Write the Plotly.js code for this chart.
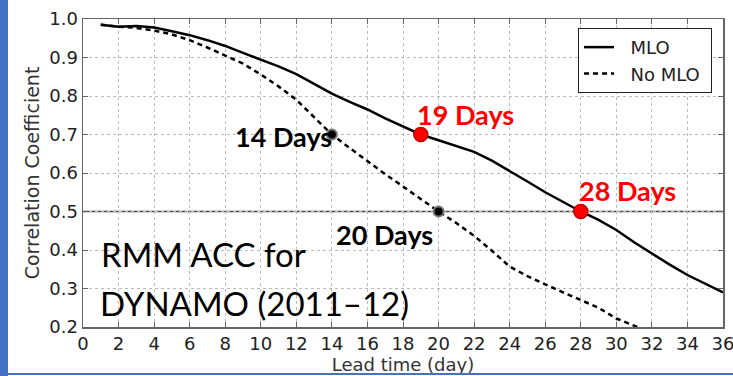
<!DOCTYPE html>
<html><head><meta charset="utf-8">
<script src="https://cdn.plot.ly/plotly-3.0.1.min.js"></script>
<style>
html,body{margin:0;padding:0;background:#fff;}
#wrap{position:relative;width:733px;height:376px;overflow:hidden;}
#bar{position:absolute;left:0;top:0;width:8px;height:376px;background:#4472C4;}
#bot{position:absolute;left:0;top:373px;width:733px;height:2px;background:#4472C4;}
#chart{position:absolute;left:0;top:0;width:733px;height:376px;}
</style></head>
<body><div id="wrap"><div id="chart"></div><div id="bar"></div><div id="bot"></div></div>
<script>
const leadDays = [1,2,3,4,5,6,7,8,9,10,11,12,13,14,15,16,17,18,19,20,21,22,23,24,25,26,27,28,29,30,31,32,33,34,35,36];
const accMLO = [0.985,0.98,0.982,0.978,0.968,0.958,0.945,0.93,0.912,0.895,0.877,0.857,0.832,0.806,0.785,0.765,0.742,0.72,0.70,0.685,0.67,0.655,0.632,0.606,0.578,0.55,0.525,0.50,0.478,0.452,0.42,0.39,0.362,0.335,0.312,0.29];
const accNoMLO = [0.985,0.98,0.977,0.97,0.96,0.945,0.926,0.905,0.884,0.856,0.825,0.79,0.745,0.70,0.665,0.63,0.597,0.565,0.532,0.50,0.47,0.437,0.398,0.357,0.332,0.31,0.29,0.27,0.25,0.222,0.203,0.185];
const noMLODays = leadDays.slice(0, accNoMLO.length);
const redDays = [19,28], redVals = [0.70,0.50], redLabels = ["19 Days","28 Days"];
const blkDays = [14,20], blkVals = [0.70,0.50], blkLabels = ["14 Days","20 Days"];
const xTicks = [0,2,4,6,8,10,12,14,16,18,20,22,24,26,28,30,32,34,36];
const yTicks = [0.2,0.3,0.4,0.5,0.6,0.7,0.8,0.9,1.0];
const threshold = 0.5;
const boxLines = ["RMM ACC for","DYNAMO (2011–12)"];
const seriesNames = ["MLO","No MLO"];

const pad = s => '\u00a0\u00a0' + s + '\u00a0';
const traces = [
  {x: leadDays, y: accMLO, mode:'lines', name:pad(seriesNames[0]), line:{color:'#000',width:2.5}},
  {x: noMLODays, y: accNoMLO, mode:'lines', name:pad(seriesNames[1]), line:{color:'#000',width:2.5,dash:'5px,4px'}},
  {x: blkDays, y: blkVals, mode:'markers', showlegend:false, marker:{color:'#000',size:10,line:{color:'#777',width:2}}},
  {x: redDays, y: redVals, mode:'markers', showlegend:false, marker:{color:'#ff0000',size:14,line:{color:'#c00000',width:1.5}}}
];
const lab = 'Lato, "Open Sans", sans-serif';
const annotations = [
  {x:redDays[0], y:redVals[0], text:'<b>'+redLabels[0]+'</b>', showarrow:false, xanchor:'left', yanchor:'bottom', xshift:-6, yshift:2, font:{family:lab,size:27,color:'#ff0000'}},
  {x:redDays[1], y:redVals[1], text:'<b>'+redLabels[1]+'</b>', showarrow:false, xanchor:'left', yanchor:'bottom', xshift:-4, yshift:3, font:{family:lab,size:27,color:'#ff0000'}},
  {x:blkDays[0], y:blkVals[0], text:'<b>'+blkLabels[0]+'</b>', showarrow:false, xanchor:'right', yanchor:'middle', xshift:2, yshift:-2, font:{family:lab,size:27,color:'#000'}},
  {x:blkDays[1], y:blkVals[1], text:'<b>'+blkLabels[1]+'</b>', showarrow:false, xanchor:'right', yanchor:'top', xshift:-4, yshift:-4, font:{family:lab,size:27,color:'#000'}},
  {x:1, y:0.39, text:boxLines[0], showarrow:false, xanchor:'left', yanchor:'middle', xshift:-2, font:{family:lab,size:33,color:'#000'}},
  {x:1, y:0.262, text:boxLines[1], showarrow:false, xanchor:'left', yanchor:'middle', xshift:-3, font:{family:lab,size:33,color:'#000'}}
];
const layout = {
  width:733, height:376,
  margin:{l:83, r:10, t:19, b:49},
  paper_bgcolor:'#fff', plot_bgcolor:'#fff',
  font:{family:'"DejaVu Sans", sans-serif', size:18, color:'#222'},
  showlegend:true,
  legend:{x:0.7735, y:0.971, xanchor:'left', yanchor:'top', bordercolor:'#222', borderwidth:1, bgcolor:'#fff', font:{size:18,color:'#222'}, tracegroupgap:0},
  xaxis:{range:[0,36], tickvals:xTicks, ticktext:xTicks.map(String), showgrid:true, gridcolor:'#bbb', griddash:'dot', gridwidth:1,
         showline:true, linecolor:'#666', linewidth:1.5, mirror:'ticks', ticks:'inside', ticklen:5, tickcolor:'#666', zeroline:false,
         ticklabeloverflow:'allow',
         title:{text:'Lead time (day)', font:{size:18,color:'#333'}, standoff:0}, tickfont:{size:18,color:'#222'}},
  yaxis:{range:[0.2,1.0], tickvals:yTicks, ticktext:yTicks.map(v=>v.toFixed(1)), showgrid:true, gridcolor:'#bbb', griddash:'dot', gridwidth:1,
         showline:true, linecolor:'#666', linewidth:1.5, mirror:'ticks', ticks:'inside', ticklen:5, tickcolor:'#666', zeroline:false,
         ticklabeloverflow:'allow',
         title:{text:'Correlation Coefficient', font:{size:19,color:'#333'}, standoff:4}, tickfont:{size:18,color:'#222'}},
  shapes:[{type:'line', xref:'paper', x0:0, x1:1, yref:'y', y0:threshold, y1:threshold, line:{color:'#444', width:1.5}, layer:'between'}],
  annotations: annotations
};
Plotly.newPlot('chart', traces, layout, {displayModeBar:false, staticPlot:true});
</script></body></html>
